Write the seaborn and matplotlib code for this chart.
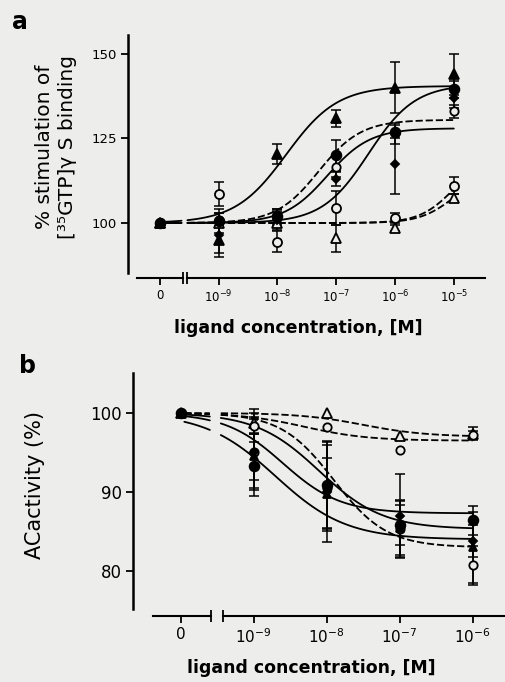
import numpy as np
import pandas as pd
import matplotlib
matplotlib.use("Agg")
import matplotlib.pyplot as plt
import seaborn as sns

sns.set_theme(style="ticks")
plt.rcParams["font.family"] = ["DejaVu Sans"]
plt.rcParams["mathtext.fontset"] = "dejavusans"
plt.rcParams["text.color"] = "black"
plt.rcParams["axes.labelcolor"] = "black"
plt.rcParams["xtick.color"] = "black"
plt.rcParams["ytick.color"] = "black"

BG = "#ededeb"
W, H = 506, 682

# ---------------- data: panel a ----------------
a_conc = [0, 1e-9, 1e-8, 1e-7, 1e-6, 1e-5]
a_xticklabels = ["0", r"$10^{-9}$", r"$10^{-8}$", r"$10^{-7}$", r"$10^{-6}$", r"$10^{-5}$"]
a_yticks = [100, 125, 150]
a_yticklabels = ["100", "125", "150"]

a_tri_filled = [100, 95.0, 120.5, 131.0, 140.0, 144.0]
a_tri_filled_err = [0, 4.0, 3.0, 2.5, 7.5, 6.0]
a_tri_filled_fit = (100, 140.5, -7.85, 1.0)

a_circ_filled = [100, 100.5, 102.0, 120.0, 127.0, 139.5]
a_circ_filled_err = [0, 3.5, 2.0, 4.5, 2.0, 2.5]
a_circ_filled_fit = (100, 130.5, -7.3, 1.2)

a_diam_filled = [100, 96.5, 101.0, 113.0, 117.5, 137.0]
a_diam_filled_err = [0, 6.5, 3.0, 2.0, 9.0, 3.0]
a_diam_filled_fit = (100, 141.0, -6.45, 1.1)

a_circ_open2 = [100, 101.0, 101.5, 116.5, 126.5, 133.0]
a_circ_open2_err = [0, 2.0, 2.0, 3.0, 3.0, 2.0]
a_circ_open2_fit = (100, 128.0, -7.15, 1.2)

a_circ_open = [100, 108.5, 94.5, 104.5, 101.5, 111.0]
a_circ_open_err = [0, 3.5, 3.0, 5.0, 1.5, 2.5]
a_circ_open_fit = (100, 120.0, -5.0, 1.5)

a_tri_open = [100, 100.0, 100.0, 95.5, 98.5, 107.5]
a_tri_open_err = [0, 0, 0, 4.0, 1.0, 1.0]
a_tri_open_fit = (100, 115.0, -5.0, 1.5)

# ---------------- data: panel b ----------------
b_conc = [0, 1e-9, 1e-8, 1e-7, 1e-6]
b_xticklabels = ["0", r"$10^{-9}$", r"$10^{-8}$", r"$10^{-7}$", r"$10^{-6}$"]
b_yticks = [80, 90, 100]
b_yticklabels = ["80", "90", "100"]

b_circ_filled = [100, 93.3, 90.9, 85.8, 86.4]
b_circ_filled_err = [0, 3.0, 5.5, 2.5, 1.8]
b_circ_filled_fit = (100, 87.3, -8.6, 1.1)

b_diam_filled = [100, 95.0, 90.0, 87.0, 83.8]
b_diam_filled_err = [0, 4.5, 6.3, 5.3, 2.0]
b_diam_filled_fit = (100, 85.3, -8.1, 1.0)

b_tri_filled = [100, 94.5, 89.8, 85.5, 83.0]
b_tri_filled_err = [0, 3.0, 4.5, 3.5, 4.5]
b_tri_filled_fit = (100, 84.0, -8.7, 0.9)

b_circ_open2 = [100, 95.0, 90.5, 85.3, 80.7]
b_circ_open2_err = [0, 5.5, 5.5, 3.5, 2.5]
b_circ_open2_fit = (100, 83.0, -7.9, 1.2)

b_tri_open = [100, 98.7, 100.0, 97.1, 97.4]
b_tri_open_err = [0, 1.3, 0, 0, 0.8]
b_tri_open_fit = (100, 97.0, -7.5, 1.0)

b_circ_open = [100, 98.3, 98.2, 95.3, 97.2]
b_circ_open_err = [0, 1.0, 0, 0, 0.5]
b_circ_open_fit = (100, 96.5, -8.3, 1.0)

ZERO_POS = -10.0


def to_pos(c):
    return np.log10(c) if c > 0 else ZERO_POS


def sigmoid(x, start, end, logec50, hill):
    return start + (end - start) / (1 + 10 ** ((logec50 - x) * hill))


def rect(l, t, r, b):
    return [l / W, 1 - b / H, (r - l) / W, (b - t) / H]


def px(x, y):
    return x / W, 1 - y / H


fig = plt.figure(figsize=(W / 100, H / 100), dpi=100, facecolor=BG)


def draw_series(ax, conc, vals, errs, fit, marker, filled, dashed, segs, ms):
    ls = (0, (4, 1.6)) if dashed else "-"
    for x0, x1 in segs:
        xs = np.linspace(x0, x1, 80)
        df = pd.DataFrame({"x": xs, "y": sigmoid(xs, *fit)})
        sns.lineplot(data=df, x="x", y="y", ax=ax, color="black", lw=1.3,
                     linestyle=ls, estimator=None, sort=False, zorder=2)
    pos = np.array([to_pos(c) for c in conc])
    v = np.array(vals)
    e = np.array(errs)
    m = e > 0
    ax.errorbar(pos[m], v[m], yerr=e[m], fmt="none", ecolor="black",
                elinewidth=1.1, capsize=3.5, capthick=1.1, zorder=3)
    ax.plot(pos, v, linestyle="none", marker=marker, ms=ms,
            mfc="black" if filled else BG, mec="black", mew=1.3, zorder=4)


def style_axes(ax, xlim, ylim, yticks, ylabels, xticks, xlabels, seg1, seg2,
               outward, ytick_fs, xtick_fs):
    ax.set_facecolor("none")
    ax.set_xlim(*xlim)
    ax.set_ylim(*ylim)
    for s in ("top", "right"):
        ax.spines[s].set_visible(False)
    ax.spines["left"].set_linewidth(1.8)
    ax.spines["left"].set_color("black")
    ax.spines["bottom"].set_linewidth(1.5)
    ax.spines["bottom"].set_color("black")
    ax.spines["bottom"].set_position(("outward", outward))
    ax.spines["bottom"].set_bounds(seg2[0], xlim[1])
    ax.set_yticks(yticks)
    ax.set_yticklabels(ylabels, fontsize=ytick_fs)
    ax.set_xticks(xticks[1:])
    ax.set_xticklabels(xlabels[1:], fontsize=xtick_fs)
    ax.set_xticks([seg2[0]], minor=True)
    ax.tick_params(axis="both", which="major", direction="out", length=5,
                   width=1.3, color="black", labelcolor="black", pad=3)
    ax.tick_params(axis="x", which="minor", direction="inout", length=8,
                   width=1.3, color="black")
    ax.set_xlabel("")
    ax.set_ylabel("")
    ax.grid(False)
    # segment holding the zero-concentration point
    ax0 = fig.add_axes(ax.get_position())
    ax0.set_facecolor("none")
    ax0.set_xlim(*xlim)
    ax0.set_ylim(*ylim)
    for s in ("top", "right", "left"):
        ax0.spines[s].set_visible(False)
    ax0.spines["bottom"].set_linewidth(1.5)
    ax0.spines["bottom"].set_color("black")
    ax0.spines["bottom"].set_position(("outward", outward))
    ax0.spines["bottom"].set_bounds(seg1[0], seg1[1])
    ax0.set_yticks([])
    ax0.set_xticks([xticks[0]])
    ax0.set_xticklabels([xlabels[0]], fontsize=xtick_fs)
    ax0.set_xticks([seg1[1]], minor=True)
    ax0.tick_params(axis="x", which="major", direction="out", length=5,
                    width=1.3, color="black", labelcolor="black", pad=3)
    ax0.tick_params(axis="x", which="minor", direction="inout", length=8,
                    width=1.3, color="black")
    ax0.grid(False)
    ax0.set_zorder(ax.get_zorder() - 1)


# ---------------- panel a ----------------
axa = fig.add_axes(rect(128, 35, 485, 273))
segs_a = [(-9.92, -9.63), (-9.53, -5.0)]
a_series = [
    (a_tri_open, a_tri_open_err, a_tri_open_fit, "^", False, True, 6.5),
    (a_circ_open, a_circ_open_err, a_circ_open_fit, "o", False, True, 6.5),
    (a_circ_open2, a_circ_open2_err, a_circ_open2_fit, "o", False, False, 6.0),
    (a_diam_filled, a_diam_filled_err, a_diam_filled_fit, "D", True, False, 4.5),
    (a_circ_filled, a_circ_filled_err, a_circ_filled_fit, "o", True, True, 7.0),
    (a_tri_filled, a_tri_filled_err, a_tri_filled_fit, "^", True, False, 6.5),
]
for vals, errs, fit, mk, fl, dsh, ms in a_series:
    draw_series(axa, a_conc, vals, errs, fit, mk, fl, dsh, segs_a, ms)
style_axes(axa, (-10.54, -4.47), (85.2, 155.6), a_yticks, a_yticklabels,
           [to_pos(c) for c in a_conc], a_xticklabels,
           (-10.39, -9.61), (-9.54, None), 3.6, 9.5, 8.5)

# ---------------- panel b ----------------
axb = fig.add_axes(rect(133, 373, 506, 609))
segs_b = [(-9.95, -9.6), (-9.45, -6.0)]
b_series = [
    (b_tri_open, b_tri_open_err, b_tri_open_fit, "^", False, True, 6.5),
    (b_circ_open, b_circ_open_err, b_circ_open_fit, "o", False, True, 6.0),
    (b_circ_open2, b_circ_open2_err, b_circ_open2_fit, "o", False, True, 6.0),
    (b_tri_filled, b_tri_filled_err, b_tri_filled_fit, "^", True, False, 6.0),
    (b_diam_filled, b_diam_filled_err, b_diam_filled_fit, "D", True, False, 4.5),
    (b_circ_filled, b_circ_filled_err, b_circ_filled_fit, "o", True, False, 7.0),
]
for vals, errs, fit, mk, fl, dsh, ms in b_series:
    draw_series(axb, b_conc, vals, errs, fit, mk, fl, dsh, segs_b, ms)
style_axes(axb, (-10.653, -5.542), (75.19, 105.06), b_yticks, b_yticklabels,
           [to_pos(c) for c in b_conc], b_xticklabels,
           (-10.375, -9.583), (-9.417, None), 5.0, 12, 11)

# ---------------- texts ----------------
fig.text(*px(20, 22), "a", fontsize=17, fontweight="bold", ha="center", va="center")
fig.text(*px(28, 366), "b", fontsize=17, fontweight="bold", ha="center", va="center")
fig.text(*px(56, 147), "% stimulation of\n[³⁵GTP]γ S binding", rotation=90,
         fontsize=14.5, ha="center", va="center", linespacing=1.25)
fig.text(*px(35, 485), "ACactivity (%)", rotation=90, fontsize=15,
         ha="center", va="center")
fig.text(*px(298, 328), "ligand concentration, [M]", fontsize=12.5,
         fontweight="bold", ha="center", va="center")
fig.text(*px(311, 668), "ligand concentration, [M]", fontsize=12.5,
         fontweight="bold", ha="center", va="center")

fig.savefig("out.png", dpi=100, facecolor=BG)
